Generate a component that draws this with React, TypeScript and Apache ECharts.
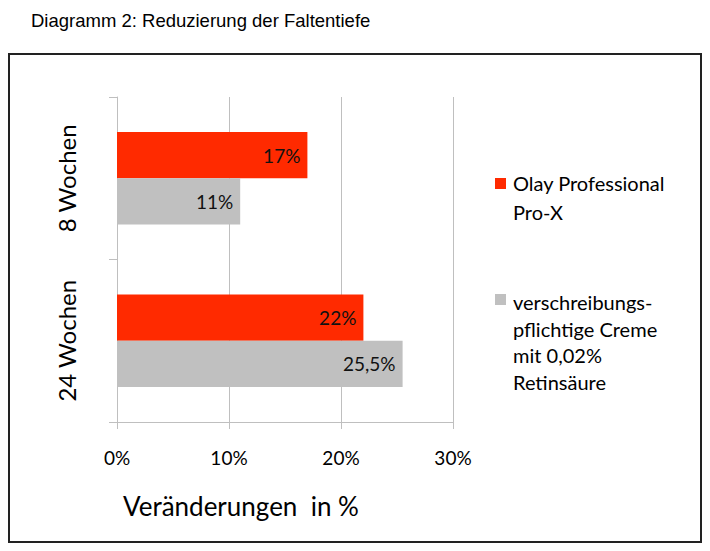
import React, { useEffect, useRef } from "react";
import * as echarts from "echarts";

const titleText = "Diagramm 2: Reduzierung der Faltentiefe";
const categories = ["8 Wochen", "24 Wochen"];
const seriesNames = ["Olay Professional Pro-X", "verschreibungspflichtige Creme mit 0,02% Retinsäure"];
const olayValues = [17, 22];
const cremeValues = [11, 25.5];
const legendLines1 = ["Olay Professional", "Pro-X"];
const legendLines2 = ["verschreibungs-", "pflichtige Creme", "mit 0,02%", "Retinsäure"];
const axisTitle = "Veränderungen  in %";
const xTicks = { min: 0, max: 30, interval: 10 };

const RED = "#ff2a00";
const GREY = "#c0c0c0";
const FONT = "Lato, 'Noto Sans', sans-serif";

export default function App() {
  const ref = useRef<HTMLDivElement>(null);
  useEffect(() => {
    if (!ref.current) return;
    const chart = echarts.init(ref.current, null, { renderer: "svg" });
    const fmt = (p: any) => String(p.value).replace(".", ",") + "%";
    const barLabel = {
      show: true,
      position: "insideRight",
      distance: 7,
      formatter: fmt,
      fontSize: 19,
      color: "#111",
      fontFamily: FONT,
    };
    chart.setOption({
      animation: false,
      textStyle: { fontFamily: FONT },
      title: {
        text: titleText,
        left: 23,
        top: 2,
        padding: 0,
        textStyle: {
          fontFamily: "'Liberation Sans', Arial, sans-serif",
          fontSize: 18.5,
          fontWeight: "normal",
          color: "#000",
          lineHeight: 20,
        },
      },
      grid: { left: 109, right: 249, top: 89, bottom: 121, containLabel: false },
      xAxis: {
        type: "value",
        min: xTicks.min,
        max: xTicks.max,
        interval: xTicks.interval,
        axisLine: { show: true, lineStyle: { color: "#bfbfbf", width: 1 } },
        axisTick: { show: true, length: 7, lineStyle: { color: "#bfbfbf" } },
        axisLabel: {
          formatter: "{value}%",
          fontSize: 19,
          color: "#000",
          margin: 26,
          fontFamily: FONT,
        },
        splitLine: { show: true, lineStyle: { color: "#bfbfbf", width: 1 } },
      },
      yAxis: {
        type: "category",
        inverse: true,
        data: categories,
        axisLine: { show: true, lineStyle: { color: "#bfbfbf", width: 1 } },
        axisTick: { show: true, length: 8, lineStyle: { color: "#bfbfbf" } },
        axisLabel: {
          rotate: 90,
          fontSize: 24,
          color: "#000",
          margin: 39,
          fontFamily: FONT,
        },
      },
      series: [
        {
          name: seriesNames[0],
          type: "bar",
          data: olayValues,
          barGap: "0%",
          barCategoryGap: "43%",
          itemStyle: { color: RED },
          label: barLabel,
        },
        {
          name: seriesNames[1],
          type: "bar",
          data: cremeValues,
          barGap: "0%",
          barCategoryGap: "43%",
          itemStyle: { color: GREY },
          label: barLabel,
        },
      ],
      graphic: [
        {
          type: "rect",
          shape: { x: 1, y: 46, width: 692, height: 488 },
          style: { fill: "none", stroke: "#222", lineWidth: 2 },
          silent: true,
        },
        {
          type: "text",
          left: 115,
          top: 485,
          style: { text: axisTitle, fontSize: 26, fill: "#000", fontFamily: FONT },
        },
        {
          type: "rect",
          shape: { x: 487, y: 170, width: 11, height: 11 },
          style: { fill: RED },
        },
        {
          type: "text",
          x: 505,
          y: 161,
          style: {
            text: legendLines1.join("\n"),
            fontSize: 20,
            lineHeight: 28.5,
            fill: "#000",
            fontFamily: FONT,
          },
        },
        {
          type: "rect",
          shape: { x: 487, y: 286, width: 11, height: 11 },
          style: { fill: GREY },
        },
        {
          type: "text",
          x: 505,
          y: 281,
          style: {
            text: legendLines2.join("\n"),
            fontSize: 20,
            lineHeight: 26.5,
            fill: "#000",
            fontFamily: FONT,
          },
        },
      ],
    });
    return () => chart.dispose();
  }, []);
  return <div ref={ref} style={{ width: 694, height: 535 }} />;
}
